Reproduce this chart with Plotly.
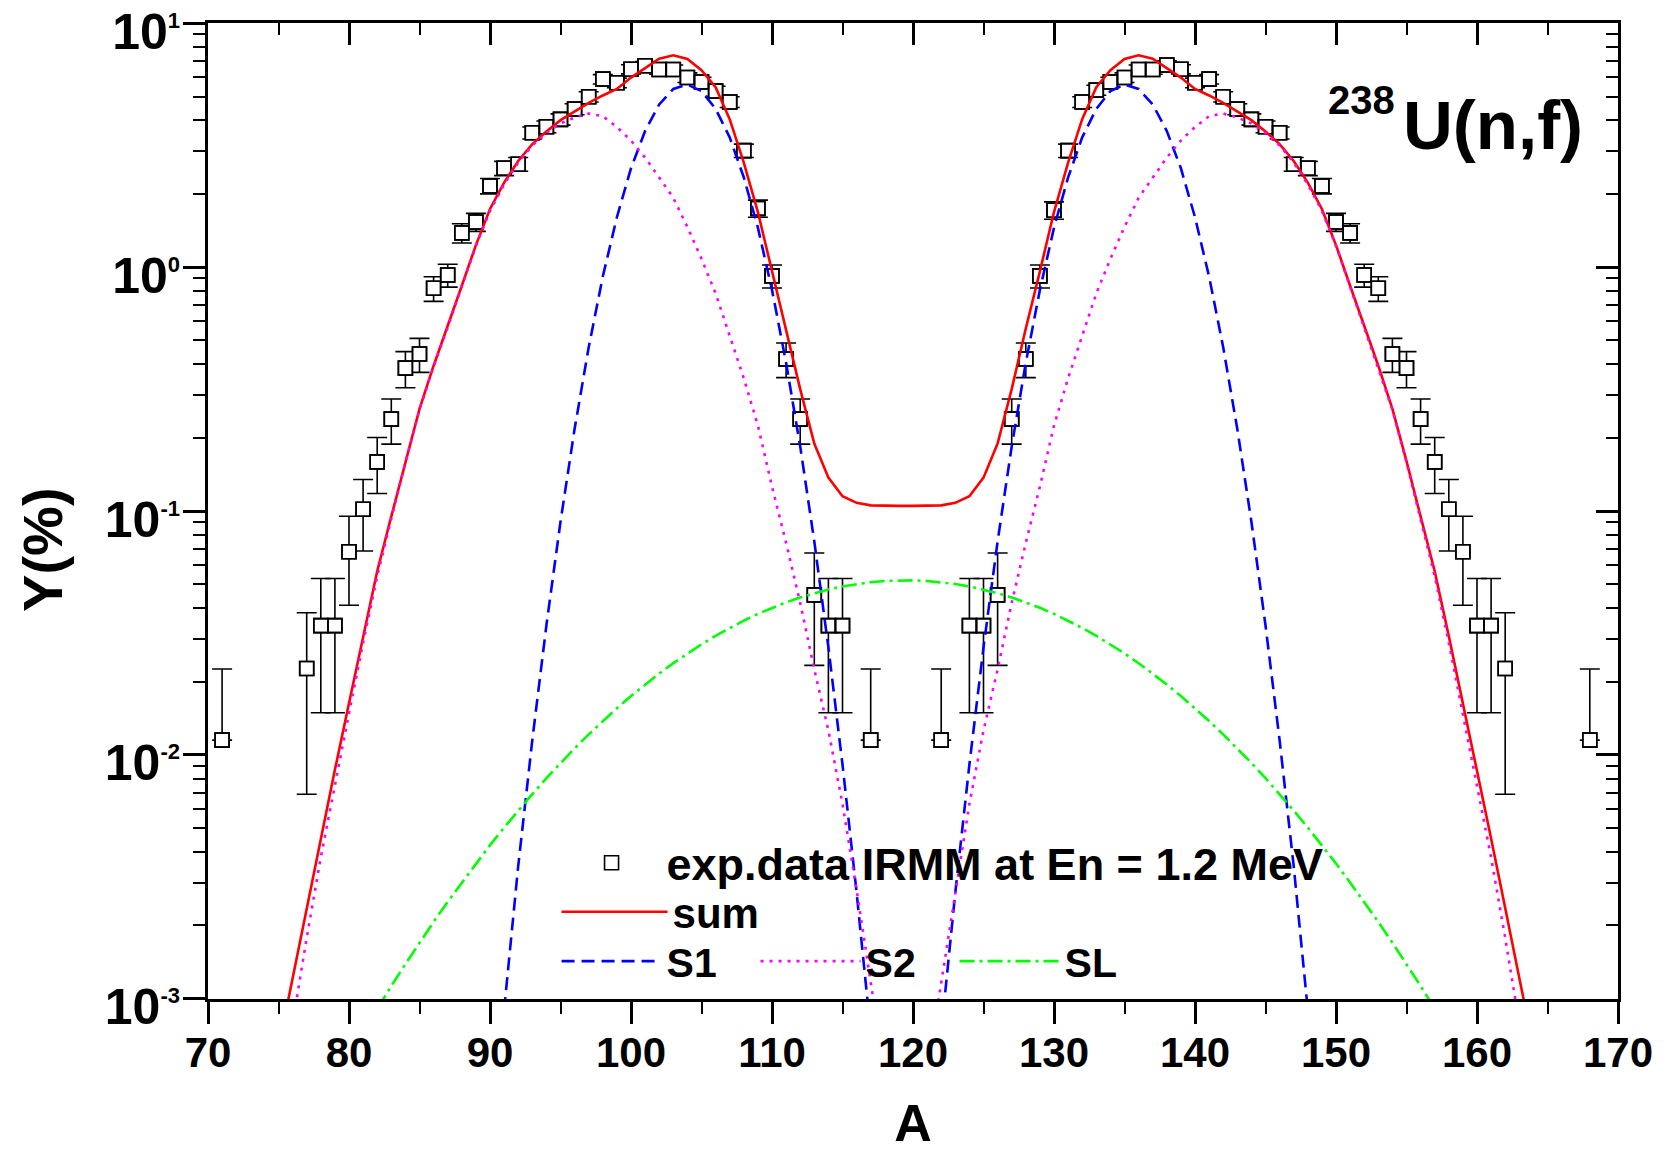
import plotly.graph_objects as go

# ---------------- experimental data (IRMM, En = 1.2 MeV) ----------------
A_exp = [71, 77, 78, 79, 80, 81, 82, 83, 84, 85, 86, 87, 88, 89, 90, 91, 92, 93, 94, 95,
         96, 97, 98, 99, 100, 101, 102, 103, 104, 105, 106, 107, 108, 109, 110, 111, 112,
         113, 114, 115, 117,
         122, 124, 125, 126, 127, 128, 129, 130, 131, 132, 133, 134, 135, 136, 137, 138,
         139, 140, 141, 142, 143, 144, 145, 146, 147, 148, 149, 150, 151, 152, 153, 154,
         155, 156, 157, 158, 159, 160, 161, 162, 168]
Y_exp = [0.0115, 0.0226, 0.0339, 0.0339, 0.0681, 0.1016, 0.159, 0.238, 0.385, 0.44, 0.818,
         0.927, 1.38, 1.53, 2.15, 2.54, 2.64, 3.55, 3.76, 4.03, 4.44, 4.99, 5.89, 5.69, 6.47,
         6.68, 6.45, 6.45, 5.98, 5.74, 5.26, 4.75, 3.00, 1.74, 0.92, 0.42, 0.238, 0.0453,
         0.0339, 0.0339, 0.0115,
         0.0115, 0.0339, 0.0339, 0.0453, 0.238, 0.42, 0.92, 1.71, 3.00, 4.75, 5.31, 5.74,
         5.98, 6.45, 6.45, 6.73, 6.47, 5.69, 5.89, 4.99, 4.44, 4.03, 3.76, 3.55, 2.64, 2.54,
         2.15, 1.53, 1.38, 0.927, 0.818, 0.44, 0.385, 0.238, 0.159, 0.1016, 0.0681, 0.0339,
         0.0339, 0.0226, 0.0115]
err_up = [0.011, 0.0157, 0.019, 0.019, 0.027, 0.033, 0.041, 0.05, 0.065, 0.07, 0.095, 0.10,
          0.125, 0.13, 0.155, 0.17, 0.17, 0.20, 0.21, 0.215, 0.23, 0.24, 0.26, 0.26, 0.28,
          0.28, 0.28, 0.28, 0.27, 0.26, 0.25, 0.24, 0.19, 0.14, 0.10, 0.068, 0.05, 0.022,
          0.019, 0.019, 0.011,
          0.011, 0.019, 0.019, 0.022, 0.05, 0.068, 0.10, 0.14, 0.19, 0.24, 0.25, 0.26, 0.27,
          0.28, 0.28, 0.28, 0.28, 0.26, 0.26, 0.24, 0.23, 0.215, 0.21, 0.20, 0.17, 0.17,
          0.155, 0.13, 0.125, 0.10, 0.095, 0.07, 0.065, 0.05, 0.041, 0.033, 0.027, 0.019,
          0.019, 0.0157, 0.011]
err_down = [0.0, 0.0157, 0.019, 0.019, 0.027, 0.033, 0.041, 0.05, 0.065, 0.07, 0.095, 0.10,
            0.125, 0.13, 0.155, 0.17, 0.17, 0.20, 0.21, 0.215, 0.23, 0.24, 0.26, 0.26, 0.28,
            0.28, 0.28, 0.28, 0.27, 0.26, 0.25, 0.24, 0.19, 0.14, 0.10, 0.068, 0.05, 0.022,
            0.019, 0.019, 0.0,
            0.0, 0.019, 0.019, 0.022, 0.05, 0.068, 0.10, 0.14, 0.19, 0.24, 0.25, 0.26, 0.27,
            0.28, 0.28, 0.28, 0.28, 0.26, 0.26, 0.24, 0.23, 0.215, 0.21, 0.20, 0.17, 0.17,
            0.155, 0.13, 0.125, 0.10, 0.095, 0.07, 0.065, 0.05, 0.041, 0.033, 0.027, 0.019,
            0.019, 0.0157, 0.0]

# ---------------- model curves ----------------
A_sum = list(range(75, 165))
Y_sum = [0.00063, 0.00122, 0.00236, 0.00455, 0.00869, 0.0163, 0.0307, 0.0566, 0.095, 0.160,
         0.262, 0.394, 0.571, 0.838, 1.23, 1.73, 2.22, 2.72, 3.19, 3.59, 4.00, 4.34, 4.71,
         5.05, 5.37, 5.98, 6.53, 7.14, 7.38, 7.13, 6.41, 5.46, 4.04, 2.68, 1.68, 0.96, 0.56,
         0.316, 0.189, 0.137, 0.115, 0.108, 0.1055, 0.105, 0.105,
         0.105, 0.105, 0.1055, 0.108, 0.115, 0.137, 0.189, 0.316, 0.56, 0.96, 1.68, 2.68,
         4.04, 5.46, 6.41, 7.13, 7.38, 7.14, 6.53, 5.98, 5.37, 5.05, 4.71, 4.34, 4.00, 3.59,
         3.19, 2.72, 2.22, 1.73, 1.23, 0.838, 0.571, 0.394, 0.262, 0.160, 0.095, 0.0566,
         0.0307, 0.0163, 0.00869, 0.00455, 0.00236, 0.00122, 0.00063]

A_S1_light = list(range(91, 118))
Y_S1_light = [0.0009, 0.0035, 0.0115, 0.034, 0.0904, 0.217, 0.469, 0.914, 1.60, 2.54, 3.61,
              4.64, 5.37, 5.60, 5.26, 4.45, 3.40, 2.33, 1.45, 0.806, 0.405, 0.184, 0.075,
              0.0276, 0.00914, 0.00273, 0.00073]
A_S1_heavy = list(range(122, 149))
Y_S1_heavy = [0.00073, 0.00273, 0.00914, 0.0276, 0.075, 0.184, 0.405, 0.806, 1.45, 2.33,
              3.40, 4.45, 5.26, 5.60, 5.37, 4.64, 3.61, 2.54, 1.60, 0.914, 0.469, 0.217,
              0.0904, 0.034, 0.0115, 0.0035, 0.0009]

A_S2_light = list(range(76, 119))
Y_S2_light = [0.00079, 0.00178, 0.0038, 0.0076, 0.0148, 0.0288, 0.054, 0.093, 0.158, 0.26,
              0.39, 0.565, 0.83, 1.22, 1.70, 2.18, 2.68, 3.15, 3.54, 3.88, 4.10, 4.26, 4.15,
              3.75, 3.30, 2.81, 2.33, 1.92, 1.46, 1.08, 0.78, 0.52, 0.35, 0.224, 0.126, 0.074,
              0.042, 0.0224, 0.0126, 0.0063, 0.0028, 0.00117, 0.0005]
A_S2_heavy = list(range(121, 164))
Y_S2_heavy = [0.0005, 0.00117, 0.0028, 0.0063, 0.0126, 0.0224, 0.042, 0.074, 0.126, 0.224,
              0.35, 0.52, 0.78, 1.08, 1.46, 1.92, 2.33, 2.81, 3.30, 3.75, 4.15, 4.26, 4.10,
              3.88, 3.54, 3.15, 2.68, 2.18, 1.70, 1.22, 0.83, 0.565, 0.39, 0.26, 0.158, 0.093,
              0.054, 0.0288, 0.0148, 0.0076, 0.0038, 0.00178, 0.00079]

A_SL = list(range(81, 159))
Y_SL = [0.00073, 0.00091, 0.00113, 0.00139, 0.00170, 0.00207, 0.00250, 0.00300, 0.00359,
        0.00427, 0.00504, 0.00592, 0.00691, 0.00803, 0.00927, 0.01064, 0.01214, 0.01377,
        0.01554, 0.01743, 0.01945, 0.02157, 0.02378, 0.02607, 0.02842, 0.03080, 0.03319,
        0.03556, 0.03788, 0.04012, 0.04224, 0.04423, 0.04605, 0.04766, 0.04905, 0.05019,
        0.05107, 0.05166, 0.05196,
        0.05196, 0.05166, 0.05107, 0.05019, 0.04905, 0.04766, 0.04605, 0.04423, 0.04224,
        0.04012, 0.03788, 0.03556, 0.03319, 0.03080, 0.02842, 0.02607, 0.02378, 0.02157,
        0.01945, 0.01743, 0.01554, 0.01377, 0.01214, 0.01064, 0.00927, 0.00803, 0.00691,
        0.00592, 0.00504, 0.00427, 0.00359, 0.00300, 0.00250, 0.00207, 0.00170, 0.00139,
        0.00113, 0.00091, 0.00073]

FONT = "Liberation Sans, Arial, sans-serif"
X_RANGE = [70, 170]
Y_RANGE = [-3.0003, 1.0003]   # log10 range, 10^-3 .. 10^1

SUP = '<span style="font-size:22px">{}</span>'
Y_LABELS = {"0.001": "-3", "0.01": "-2", "0.1": "-1", "1": "0", "10": "1"}

fig = go.Figure()

fig.add_trace(go.Scatter(
    x=A_exp, y=Y_exp, mode="markers", name="exp.data IRMM at En = 1.2 MeV",
    marker=dict(symbol="square", size=14, color="white", line=dict(color="black", width=1.6)),
    error_y=dict(type="data", symmetric=False, array=err_up, arrayminus=err_down,
                 color="black", thickness=1.6, width=10),
    legend="legend"))
fig.add_trace(go.Scatter(
    x=A_exp, y=Y_exp, mode="markers", showlegend=False, hoverinfo="skip",
    marker=dict(symbol="square-open", size=14, color="black", line=dict(width=1.6))))

fig.add_trace(go.Scatter(x=A_sum, y=Y_sum, mode="lines", name="sum",
                         line=dict(color="#ff0000", width=2.6), legend="legend3"))

fig.add_trace(go.Scatter(x=A_S1_light + [None] + A_S1_heavy,
                         y=Y_S1_light + [None] + Y_S1_heavy,
                         mode="lines", name="S1", connectgaps=False,
                         line=dict(color="#0000ff", width=2.6, dash="13px,7px"),
                         legend="legend2"))
fig.add_trace(go.Scatter(x=A_S2_light + [None] + A_S2_heavy,
                         y=Y_S2_light + [None] + Y_S2_heavy,
                         mode="lines", name="S2", connectgaps=False,
                         line=dict(color="#ff00ff", width=2.6, dash="3px,6px"),
                         legend="legend2"))
fig.add_trace(go.Scatter(x=A_SL, y=Y_SL, mode="lines", name="SL",
                         line=dict(color="#00ff00", width=2.6, dash="15px,5px,3px,5px"),
                         legend="legend2"))

# empty trace so that the mirrored frame axes (top / right) are created and drawn
fig.add_trace(go.Scatter(x=[None], y=[None], xaxis="x2", yaxis="y2", mode="markers",
                         showlegend=False, hoverinfo="skip"))

axis_common = dict(showgrid=False, zeroline=False, showline=True, linecolor="black",
                   linewidth=3, tickcolor="black", tickwidth=3, ticklen=22, automargin=False)

alias = {}
for key, p in Y_LABELS.items():
    txt = "10<sup>" + SUP.format(p) + "</sup>"
    alias[key] = txt
    alias["10<sup>" + p.replace("-", "\u2212") + "</sup>"] = txt

fig.update_layout(
    width=1666, height=1151,
    margin=dict(l=200, r=56, t=15, b=160),
    paper_bgcolor="white", plot_bgcolor="white",
    font=dict(family=FONT, color="black"),
    xaxis=dict(range=X_RANGE, dtick=10, tick0=70, ticks="outside",
               minor=dict(dtick=5, ticks="outside", ticklen=12, tickwidth=2, tickcolor="black"),
               tickfont=dict(family=FONT, size=42, weight="bold"), ticklabelstandoff=-7,
               ticklabeloverflow="allow",
               title=dict(text="A", font=dict(family=FONT, size=52, weight="bold"), standoff=30),
               **axis_common),
    yaxis=dict(type="log", range=Y_RANGE, dtick=1, tick0=0, ticks="outside",
               exponentformat="power",
               minor=dict(dtick="D1", ticks="outside", ticklen=12, tickwidth=2, tickcolor="black"),
               labelalias=alias, ticklabelstandoff=-5, ticklabelshift=8,
               ticklabeloverflow="allow",
               tickfont=dict(family=FONT, size=40, weight="bold"),
               **axis_common),
    xaxis2=dict(overlaying="x", side="top", anchor="y2", range=X_RANGE, dtick=10, tick0=70,
                ticks="inside", showticklabels=False,
                minor=dict(dtick=5, ticks="inside", ticklen=12, tickwidth=2, tickcolor="black"),
                **axis_common),
    yaxis2=dict(overlaying="y", side="right", anchor="x2", type="log", range=Y_RANGE, dtick=1,
                tick0=0, ticks="inside", showticklabels=False,
                minor=dict(dtick="D1", ticks="inside", ticklen=12, tickwidth=2, tickcolor="black"),
                **axis_common),
    legend=dict(x=0.2472, y=0.1763, xanchor="left", yanchor="top", orientation="v",
                bgcolor="rgba(0,0,0,0)", itemwidth=100,
                font=dict(family=FONT, size=45, weight="bold")),
    legend3=dict(x=0.2472, y=0.124, xanchor="left", yanchor="top", orientation="v",
                 bgcolor="rgba(0,0,0,0)", itemwidth=106,
                 font=dict(family=FONT, size=42, weight="bold")),
    legend2=dict(x=0.2472, y=0.0728, xanchor="left", yanchor="top", orientation="h",
                 bgcolor="rgba(0,0,0,0)", itemwidth=100, entrywidth=84,
                 entrywidthmode="pixels",
                 font=dict(family=FONT, size=41, weight="bold")),
    annotations=[
        dict(text="Y(%)", xref="paper", yref="paper", x=-0.1175, y=0.4605, textangle=-90,
             xanchor="center", yanchor="middle", showarrow=False,
             font=dict(family=FONT, size=56, weight="bold")),
        dict(text="238", xref="paper", yref="paper", x=0.8434, y=0.921,
             xanchor="right", yanchor="middle", showarrow=False,
             font=dict(family=FONT, size=40, weight="bold")),
        dict(text="U(n,f)", xref="paper", yref="paper", x=0.9765, y=0.895,
             xanchor="right", yanchor="middle", showarrow=False,
             font=dict(family=FONT, size=69, weight="bold")),
    ],
)

fig.write_html("out.html")
